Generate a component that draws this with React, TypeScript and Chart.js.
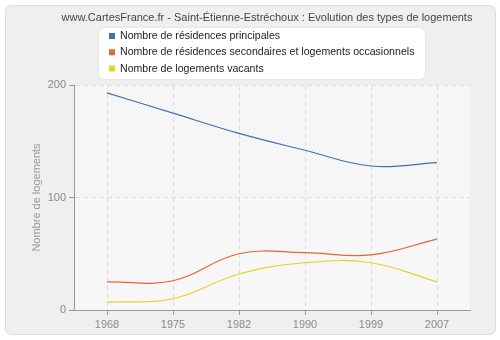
import React, { useEffect, useRef } from 'react';
import { Chart, registerables } from 'chart.js';

Chart.register(...registerables);

const chartTitle = 'www.CartesFrance.fr - Saint-Étienne-Estréchoux : Evolution des types de logements';
const yAxisTitle = 'Nombre de logements';
const years = ['1968', '1975', '1982', '1990', '1999', '2007'];
const principales = [193, 175, 157, 142, 128, 131];
const secondaires = [25, 26, 50, 51, 49, 63];
const vacants = [7, 10, 32, 42, 42, 25];
const seriesLabels = [
  'Nombre de résidences principales',
  'Nombre de résidences secondaires et logements occasionnels',
  'Nombre de logements vacants',
];
const seriesColors = ['#4372aa', '#e8632e', '#e2d42c'];
const yMin = 0;
const yMax = 200;
const yStep = 100;

const FONT = '"Liberation Sans", Arial, sans-serif';

function roundRect(ctx: CanvasRenderingContext2D, x: number, y: number, w: number, h: number, r: number) {
  ctx.beginPath();
  ctx.moveTo(x + r, y);
  ctx.lineTo(x + w - r, y);
  ctx.arcTo(x + w, y, x + w, y + r, r);
  ctx.lineTo(x + w, y + h - r);
  ctx.arcTo(x + w, y + h, x + w - r, y + h, r);
  ctx.lineTo(x + r, y + h);
  ctx.arcTo(x, y + h, x, y + h - r, r);
  ctx.lineTo(x, y + r);
  ctx.arcTo(x, y, x + r, y, r);
  ctx.closePath();
}

const decorPlugin = {
  id: 'decor',
  beforeDraw(chart: any) {
    const ctx: CanvasRenderingContext2D = chart.ctx;
    const { left, right, top, bottom } = chart.chartArea;
    ctx.save();
    ctx.fillStyle = '#ffffff';
    ctx.fillRect(0, 0, chart.width, chart.height);
    roundRect(ctx, 5.5, 5.5, 490, 329, 6);
    ctx.fillStyle = '#efefef';
    ctx.fill();
    ctx.strokeStyle = '#dcdcdc';
    ctx.lineWidth = 1;
    ctx.stroke();

    // plot area
    ctx.fillStyle = '#f9f9f9';
    ctx.fillRect(left, top, right - left, bottom - top);
    ctx.beginPath();
    ctx.rect(left, top, right - left, bottom - top);
    ctx.clip();
    const yScale = chart.scales.y;
    const mid = yScale.getPixelForValue(100);
    const drawHatch = (y0: number, y1: number, color: string) => {
      ctx.save();
      ctx.beginPath();
      ctx.rect(left, y0, right - left, y1 - y0);
      ctx.clip();
      ctx.strokeStyle = color;
      ctx.lineWidth = 1;
      ctx.beginPath();
      const h = bottom - top;
      for (let x = left - h; x < right + h; x += 4) {
        ctx.moveTo(x, bottom);
        ctx.lineTo(x + h, top);
      }
      ctx.stroke();
      ctx.restore();
    };
    drawHatch(top, mid, '#ececec');
    drawHatch(mid, bottom, '#f1f1f1');
    ctx.restore();

    // title
    ctx.save();
    ctx.fillStyle = '#444444';
    ctx.font = `11px ${FONT}`;
    ctx.textAlign = 'center';
    ctx.textBaseline = 'middle';
    ctx.fillText(chartTitle, 267, 17.5);
    ctx.restore();
  },
  afterDraw(chart: any) {
    const ctx: CanvasRenderingContext2D = chart.ctx;
    ctx.save();
    ctx.shadowColor = 'rgba(0,0,0,0.08)';
    ctx.shadowBlur = 3;
    roundRect(ctx, 99, 28, 326, 51, 6);
    ctx.fillStyle = '#ffffff';
    ctx.fill();
    ctx.shadowColor = 'transparent';
    ctx.font = `10.6px ${FONT}`;
    ctx.textBaseline = 'middle';
    ctx.textAlign = 'left';
    chart.data.datasets.forEach((ds: any, i: number) => {
      const cy = 36 + i * 16.3;
      ctx.fillStyle = ds.borderColor;
      ctx.fillRect(109, cy - 3, 6, 6);
      ctx.fillStyle = '#222222';
      ctx.fillText(ds.label, 120, cy);
    });
    ctx.restore();
  },
};

export default function App() {
  const ref = useRef<HTMLCanvasElement | null>(null);
  useEffect(() => {
    if (!ref.current) return;
    const datasets = [principales, secondaires, vacants].map((values, i) => ({
      label: seriesLabels[i],
      data: values,
      borderColor: seriesColors[i],
      backgroundColor: seriesColors[i],
      borderWidth: 1.2,
      pointRadius: 0,
      tension: 0.4,
      fill: false,
    }));
    const chart = new Chart(ref.current, {
      type: 'line',
      data: { labels: years, datasets },
      plugins: [decorPlugin],
      options: {
        animation: false,
        responsive: false,
        maintainAspectRatio: false,
        layout: { padding: { top: 85, right: 30, bottom: 0, left: 0 } },
        plugins: {
          legend: { display: false },
          title: { display: false },
          tooltip: { enabled: false },
        },
        scales: {
          x: {
            type: 'category',
            offset: true,
            afterFit: (scale: any) => { scale.height = 30; },
            border: { display: true, color: '#999999', width: 1, dash: [5, 3] },
            grid: {
              offset: false,
              color: '#dedede',
              tickLength: 5,
              tickColor: '#999999',
              tickBorderDash: [],
            } as any,
            ticks: { color: '#888888', font: { family: FONT, size: 11 }, padding: 3, autoSkip: false, maxRotation: 0 },
          },
          y: {
            min: yMin,
            max: yMax,
            afterFit: (scale: any) => { scale.width = 74; },
            border: { display: true, color: '#999999', width: 1, dash: [5, 3] },
            grid: {
              color: '#dedede',
              tickLength: 5,
              tickColor: '#999999',
              tickBorderDash: [],
            } as any,
            ticks: { stepSize: yStep, color: '#888888', font: { family: FONT, size: 11 }, padding: 3 },
            title: {
              display: true,
              text: yAxisTitle,
              color: '#999999',
              font: { family: FONT, size: 11 },
              padding: { top: 30, bottom: 0 },
            },
          },
        },
      } as any,
    });
    return () => chart.destroy();
  }, []);
  return (
    <div style={{ position: 'fixed', left: 0, top: 0, width: 500, height: 340 }}>
      <canvas ref={ref} width={500} height={340} style={{ display: 'block', width: 500, height: 340 }} />
    </div>
  );
}
